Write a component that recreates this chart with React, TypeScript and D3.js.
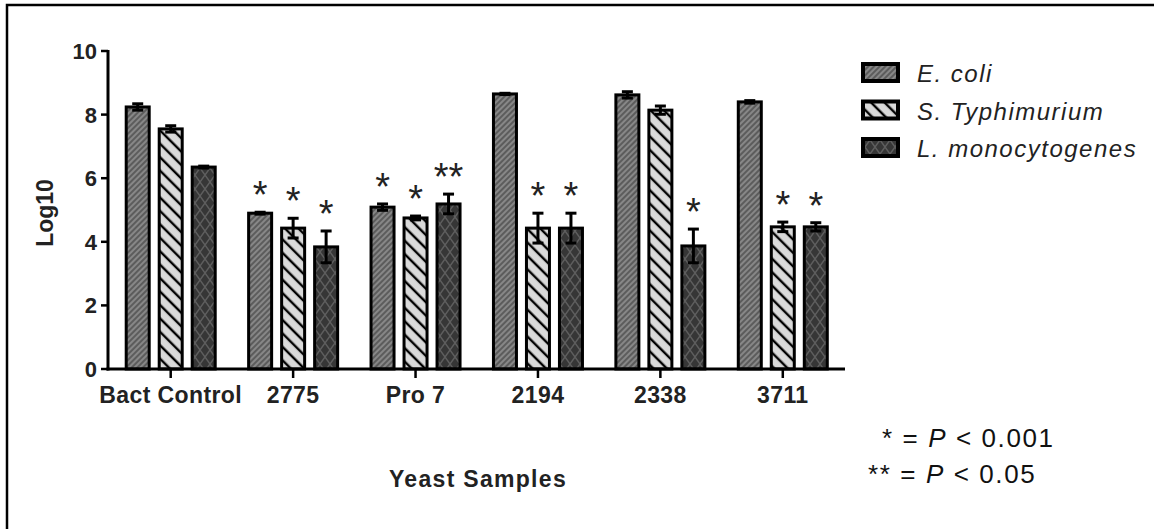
import React from "react";
import * as d3 from "d3";

const categories = ["Bact Control", "2775", "Pro 7", "2194", "2338", "3711"];
const seriesNames = ["E. coli", "S. Typhimurium", "L. monocytogenes"];
const ecoliValues = [8.24, 4.9, 5.09, 8.65, 8.62, 8.4];
const ecoliErrors = [0.1, 0.03, 0.1, 0.02, 0.1, 0.04];
const styphValues = [7.55, 4.43, 4.75, 4.43, 8.14, 4.47];
const styphErrors = [0.1, 0.31, 0.06, 0.47, 0.13, 0.15];
const lmonoValues = [6.35, 3.84, 5.19, 4.43, 3.87, 4.47];
const lmonoErrors = [0.03, 0.5, 0.31, 0.47, 0.53, 0.13];
const ecoliSig = ["", "*", "*", "", "", ""];
const styphSig = ["", "*", "*", "*", "", "*"];
const lmonoSig = ["", "*", "**", "*", "*", "*"];
const yTicks = [0, 2, 4, 6, 8, 10];

const seriesValues = [ecoliValues, styphValues, lmonoValues];
const seriesErrors = [ecoliErrors, styphErrors, lmonoErrors];
const seriesSig = [ecoliSig, styphSig, lmonoSig];
const patternIds = ["pEcoli", "pStyph", "pLmono"];

const FONT = "'Liberation Sans', Arial, sans-serif";

export default function App() {
  const x = d3.scaleBand<string>().domain(categories).range([109.5, 844]).padding(0);
  const sub = d3.scalePoint<string>().domain(seriesNames).range([-33, 33]);
  const y = d3.scaleLinear().domain([0, 10]).range([369, 51]);
  const barW = 23;

  return (
    <svg
      width={1154}
      height={529}
      style={{ position: "fixed", left: 0, top: 0, background: "#fff" }}
      fontFamily={FONT}
    >
      <defs>
        <pattern id="pEcoli" width={4} height={4} patternUnits="userSpaceOnUse" patternTransform="rotate(45)">
          <rect width={4} height={4} fill="#878787" />
          <line x1={1} y1={0} x2={1} y2={4} stroke="#454545" strokeWidth={1.3} />
        </pattern>
        <pattern id="pStyph" width={9.5} height={9.5} patternUnits="userSpaceOnUse" patternTransform="rotate(-45)">
          <rect width={9.5} height={9.5} fill="#dadada" />
          <line x1={2} y1={0} x2={2} y2={9.5} stroke="#000" strokeWidth={2.4} />
        </pattern>
        <pattern id="pLmono" width={10} height={14} patternUnits="userSpaceOnUse">
          <rect width={10} height={14} fill="#363636" />
          <path d="M0,0 L10,14 M10,0 L0,14" stroke="#5e5e5e" strokeWidth={1.4} fill="none" />
        </pattern>
      </defs>

      {/* outer border */}
      <rect x={7} y={5} width={1170} height={560} fill="none" stroke="#000" strokeWidth={2.5} />

      {/* bars */}
      {seriesNames.map((s, si) =>
        categories.map((c, ci) => {
          const cx = (x(c) as number) + x.bandwidth() / 2 + (sub(s) as number);
          const v = seriesValues[si][ci];
          return (
            <rect
              key={s + c}
              x={cx - barW / 2}
              y={y(v)}
              width={barW}
              height={y(0) - y(v)}
              fill={`url(#${patternIds[si]})`}
              stroke="#000"
              strokeWidth={3}
            />
          );
        })
      )}

      {/* error bars */}
      {seriesNames.map((s, si) =>
        categories.map((c, ci) => {
          const cx = (x(c) as number) + x.bandwidth() / 2 + (sub(s) as number);
          const v = seriesValues[si][ci];
          const e = seriesErrors[si][ci];
          const top = y(v + e);
          const bot = y(v - e);
          return (
            <g key={"e" + s + c} stroke="#000" strokeWidth={3}>
              <line x1={cx} x2={cx} y1={top} y2={bot} />
              <line x1={cx - 5.5} x2={cx + 5.5} y1={top} y2={top} />
              <line x1={cx - 5.5} x2={cx + 5.5} y1={bot} y2={bot} />
            </g>
          );
        })
      )}

      {/* significance markers */}
      {seriesNames.map((s, si) =>
        categories.map((c, ci) => {
          const mark = seriesSig[si][ci];
          if (!mark) return null;
          const cx = (x(c) as number) + x.bandwidth() / 2 + (sub(s) as number);
          const top = y(seriesValues[si][ci] + seriesErrors[si][ci]);
          return (
            <text key={"s" + s + c} x={cx} y={top - 4} textAnchor="middle" fontSize={38} fill="#222">
              {mark}
            </text>
          );
        })
      )}

      {/* y axis */}
      <line x1={108} x2={108} y1={y(10) - 1} y2={y(0) + 1.5} stroke="#000" strokeWidth={3} />
      {yTicks.map((t) => (
        <g key={"yt" + t}>
          <line x1={101} x2={108} y1={y(t)} y2={y(t)} stroke="#000" strokeWidth={2.5} />
          <text x={97} y={y(t) + 8} textAnchor="end" fontSize={22} fontWeight="bold" fill="#222">
            {t}
          </text>
        </g>
      ))}

      {/* x axis */}
      <line x1={106.5} x2={845} y1={y(0)} y2={y(0)} stroke="#000" strokeWidth={3} />
      {categories.map((c) => {
        const cx = (x(c) as number) + x.bandwidth() / 2;
        return (
          <g key={"xt" + c}>
            <line x1={cx} x2={cx} y1={y(0)} y2={y(0) + 9} stroke="#000" strokeWidth={2.5} />
            <text x={cx} y={403} textAnchor="middle" fontSize={23} fontWeight="bold" letterSpacing={0.4} fill="#222">
              {c}
            </text>
          </g>
        );
      })}

      {/* axis titles */}
      <text transform="translate(53,213) rotate(-90)" textAnchor="middle" fontSize={23} fontWeight="bold" fill="#222">
        Log10
      </text>
      <text x={478} y={487} textAnchor="middle" fontSize={23} fontWeight="bold" letterSpacing={1.3} fill="#222">
        Yeast Samples
      </text>

      {/* legend */}
      {seriesNames.map((s, si) => {
        const ly = 62 + si * 37.5;
        return (
          <g key={"lg" + s}>
            <rect x={861} y={ly} width={39} height={21} fill="#000" />
            <rect x={865} y={ly + 4} width={31} height={13} fill={`url(#${patternIds[si]})`} />
            <text x={917} y={ly + 20} fontSize={24} fontStyle="italic" letterSpacing={1.5} fill="#222">
              {s}
            </text>
          </g>
        );
      })}

      {/* p-value notes */}
      <text x={882} y={447} fontSize={26} letterSpacing={1.6} fill="#111">
        * = <tspan fontStyle="italic">P</tspan> &lt; 0.001
      </text>
      <text x={868} y={483} fontSize={26} letterSpacing={1.6} fill="#111">
        ** = <tspan fontStyle="italic">P</tspan> &lt; 0.05
      </text>
    </svg>
  );
}
